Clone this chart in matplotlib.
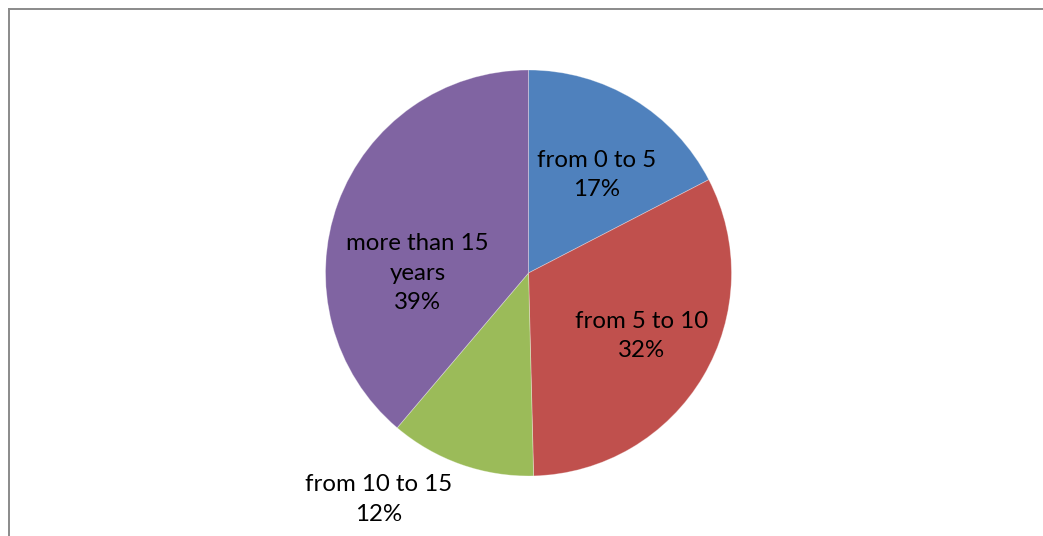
import matplotlib
matplotlib.use("Agg")
import matplotlib.pyplot as plt
from matplotlib.lines import Line2D

categories = ["from 0 to 5", "from 5 to 10", "from 10 to 15", "more than 15\nyears"]
values = [17.4, 32.2, 11.6, 38.8]
colors = ["#4F81BD", "#C0504D", "#9BBB59", "#8064A2"]

W, H = 1043, 536
fig = plt.figure(figsize=(W / 100, H / 100), dpi=100)
ax = fig.add_axes([0, 0, 1, 1])

cx, cy, R = 528.5, H - 273, 203
wedges, _ = ax.pie(values, colors=colors, startangle=90, counterclock=False,
                   center=(cx, cy), radius=R, frame=True,
                   wedgeprops=dict(edgecolor=(1, 1, 1, 0.35), linewidth=0.6))
ax.set_xlim(0, W)
ax.set_ylim(0, H)
ax.set_aspect("equal")
ax.axis("off")

total = sum(values)
# label offsets from pie center (pixels)
offsets = [(68, 98), (113, -63), (-150, -226.5), (-111, 0)]
font = ["Lato", "DejaVu Sans"]
for cat, v, (dx, dy) in zip(categories, values, offsets):
    txt = f"{cat}\n{round(v / total * 100):d}%"
    ax.text(cx + dx, cy + dy, txt, ha="center", va="center", fontsize=17.3,
            family=font, color="black", linespacing=1.52)

# chart border (top and left visible)
ax.add_line(Line2D([8.5, W], [H - 8.5, H - 8.5], color="#8a8a8a", lw=1.4))
ax.add_line(Line2D([8.5, 8.5], [0, H - 8.5], color="#8a8a8a", lw=1.4))

fig.savefig("out.png", dpi=100)
